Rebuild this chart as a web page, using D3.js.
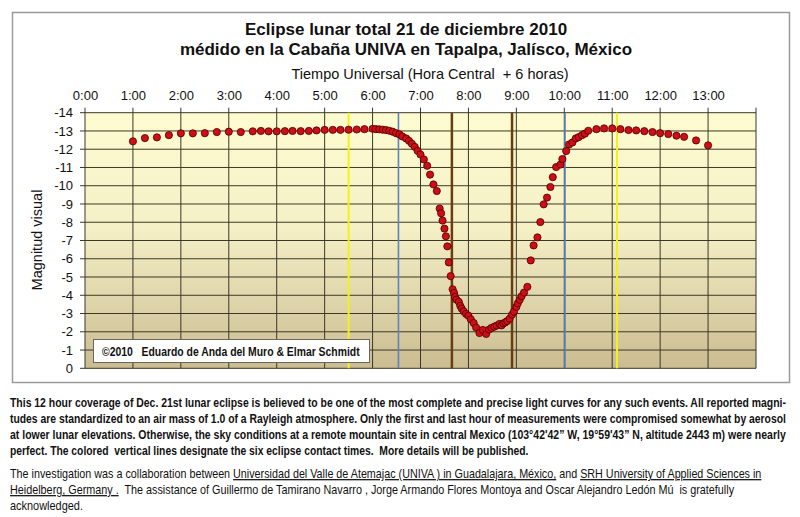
<!DOCTYPE html>
<html>
<head>
<meta charset="utf-8">
<script src="https://cdn.jsdelivr.net/npm/d3@7"></script>
<style>
  body { margin: 0; background: #fff; }
  svg { display: block; }
  text { white-space: pre; }
</style>
</head>
<body>
<script>
// measurement times (UT, decimal hours) and visual magnitudes
var times = [1.00, 1.25, 1.50, 1.75, 2.00, 2.25, 2.50, 2.75, 3.00, 3.25, 3.50, 3.67, 3.83,
  4.00, 4.17, 4.33, 4.50, 4.67, 4.83, 5.00, 5.17, 5.33, 5.50, 5.67, 5.83, 6.00, 6.07, 6.14,
  6.21, 6.28, 6.35, 6.42, 6.49, 6.56, 6.62, 6.70, 6.76, 6.82, 6.88, 6.94, 7.00, 7.07, 7.14,
  7.20, 7.27, 7.34, 7.40, 7.43, 7.46, 7.50, 7.53, 7.56, 7.59, 7.63, 7.67, 7.70, 7.72, 7.75,
  7.80, 7.83, 7.86, 7.90, 7.95, 8.00, 8.05, 8.11, 8.16, 8.23, 8.30, 8.37, 8.43, 8.48, 8.54,
  8.59, 8.65, 8.69, 8.73, 8.77, 8.81, 8.86, 8.91, 8.95, 9.00, 9.03, 9.07, 9.11, 9.16, 9.23,
  9.30, 9.36, 9.44, 9.50, 9.57, 9.64, 9.71, 9.76, 9.83, 9.92, 9.96, 10.04, 10.10, 10.17,
  10.24, 10.30, 10.37, 10.43, 10.50, 10.67, 10.83, 11.00, 11.17, 11.34, 11.50, 11.67, 11.84,
  12.00, 12.17, 12.34, 12.50, 12.75, 13.00];
var magnitudes = [-12.43, -12.61, -12.65, -12.77, -12.87, -12.87, -12.88, -12.94, -12.96, -12.94,
  -12.98, -13.00, -12.98, -12.98, -12.99, -13.00, -12.99, -13.00, -13.03, -13.06, -13.06, -13.06,
  -13.07, -13.08, -13.10, -13.12, -13.10, -13.09, -13.07, -13.05, -13.01, -12.96, -12.88, -12.81,
  -12.70, -12.59, -12.46, -12.30, -12.13, -11.91, -11.71, -11.44, -11.09, -10.61, -10.07, -9.71,
  -8.75, -8.49, -8.09, -7.65, -7.23, -6.68, -5.80, -5.05, -4.33, -4.13, -3.91, -3.76, -3.64,
  -3.42, -3.27, -3.12, -2.98, -2.88, -2.68, -2.48, -2.23, -1.93, -2.10, -1.88, -2.12, -2.21,
  -2.28, -2.34, -2.43, -2.35, -2.46, -2.52, -2.59, -2.72, -2.94, -3.10, -3.36, -3.56, -3.75,
  -3.95, -4.15, -4.46, -5.91, -6.73, -7.17, -8.01, -8.98, -9.35, -9.93, -10.47, -11.02, -11.16,
  -11.46, -11.90, -12.26, -12.37, -12.59, -12.66, -12.77, -12.85, -13.01, -13.10, -13.14, -13.14,
  -13.10, -13.05, -13.03, -12.99, -12.94, -12.88, -12.83, -12.74, -12.68, -12.48, -12.21];

// the six contacts P1 U1 U2 U3 U4 P4
var contactNames = ["P1", "U1", "U2", "U3", "U4", "P4"];
var contactTimes = [5.50, 6.54, 7.655, 8.91, 10.015, 11.10];

var hourTicks = [0, 1, 2, 3, 4, 5, 6, 7, 8, 9, 10, 11, 12, 13, 14];
var hourLabels = ["0:00", "1:00", "2:00", "3:00", "4:00", "5:00", "6:00", "7:00", "8:00",
  "9:00", "10:00", "11:00", "12:00", "13:00", ""];
var magTicks = [-14, -13, -12, -11, -10, -9, -8, -7, -6, -5, -4, -3, -2, -1, 0];

var titleLines = ["Eclipse lunar total 21 de diciembre 2010",
  "médido en la Cabaña UNIVA en Tapalpa, Jalísco, México"];

// caption text: each line is a list of [text, underlined]
var para1 = [
  [["This 12 hour coverage of Dec. 21st lunar eclipse is believed to be one of the most complete and precise light curves for any such events. All reported magni-", false]],
  [["tudes are standardized to an air mass of 1.0 of a Rayleigh atmosphere. Only the first and last hour of measurements were compromised somewhat by aerosol", false]],
  [["at lower lunar elevations. Otherwise, the sky conditions at a remote mountain site in central Mexico (103°42'42\u201D W, 19°59'43\u201D N, altitude 2443 m) were nearly", false]],
  [["perfect. The colored  vertical lines designate the six eclipse contact times.  More details will be published.", false]]
];
var para2 = [
  [["The investigation was a collaboration between ", false],
   ["Universidad del Valle de Atemajac (UNIVA ) in Guadalajara, México,", true],
   [" and ", false],
   ["SRH University of Applied Sciences in", true]],
  [["Heidelberg, Germany .", true],
   ["  The assistance of Guillermo de Tamirano Navarro , Jorge Armando Flores Montoya and Oscar Alejandro Ledón Mú  is gratefully", false]],
  [["acknowledged.", false]]
];

var width = 800, height = 517;
var margin = {left: 85, right: 44, top: 112.7, bottom: 148.7};

var svg = d3.select("body").append("svg")
    .attr("width", width)
    .attr("height", height)
    .style("font-family", "'Liberation Sans', Arial, sans-serif");

var x = d3.scaleLinear().domain([0, 14]).range([margin.left, width - margin.right]);
var y = d3.scaleLinear().domain([0, -14]).range([height - margin.bottom, margin.top]);

// chart frame
svg.append("rect")
    .attr("x", 12.5).attr("y", 12.5)
    .attr("width", 777).attr("height", 370)
    .attr("fill", "#fff")
    .attr("stroke", "#9a9a9a")
    .attr("stroke-width", 1.5);

var defs = svg.append("defs");
var grad = defs.append("linearGradient")
    .attr("id", "bg").attr("x1", 0).attr("y1", 0).attr("x2", 0).attr("y2", 1);
grad.append("stop").attr("offset", "0%").attr("stop-color", "#fdfcd0");
grad.append("stop").attr("offset", "45%").attr("stop-color", "#f5f0c6");
grad.append("stop").attr("offset", "100%").attr("stop-color", "#cbbc91");

svg.append("rect")
    .attr("x", x(0)).attr("y", y(-14))
    .attr("width", x(14) - x(0)).attr("height", y(0) - y(-14))
    .attr("fill", "url(#bg)");

// grid
svg.append("g").selectAll("line.h")
    .data(magTicks)
    .enter().append("line")
    .attr("x1", x(0) - 5).attr("x2", x(14))
    .attr("y1", function(d) { return y(d); })
    .attr("y2", function(d) { return y(d); })
    .attr("stroke", "#3b3828").attr("stroke-width", 1);

svg.append("g").selectAll("line.v")
    .data(hourTicks)
    .enter().append("line")
    .attr("x1", function(d) { return x(d); })
    .attr("x2", function(d) { return x(d); })
    .attr("y1", y(-14) - 5).attr("y2", y(0))
    .attr("stroke", "#3b3828").attr("stroke-width", 1);

// contact lines
function contactColor(name) {
    if (name.charAt(0) == "P") { return "#f6f01a"; }
    if (name == "U1" || name == "U4") { return "#5b83bd"; }
    return "#6a3c12";
}
svg.append("g").selectAll("line")
    .data(contactNames)
    .enter().append("line")
    .attr("x1", function(d, i) { return x(contactTimes[i]); })
    .attr("x2", function(d, i) { return x(contactTimes[i]); })
    .attr("y1", y(-14)).attr("y2", y(0))
    .attr("stroke", function(d) { return contactColor(d); })
    .attr("stroke-width", function(d) {
        return (d == "U2" || d == "U3") ? 2.5 : (d.charAt(0) == "P" ? 2 : 1.6);
    });

// top axis labels
var topAxis = d3.axisTop(x)
    .tickValues(hourTicks)
    .tickSize(0)
    .tickPadding(0)
    .tickFormat(function(d, i) { return hourLabels[i]; });
var gTop = svg.append("g")
    .attr("transform", "translate(0," + 100 + ")")
    .call(topAxis);
gTop.select(".domain").remove();
gTop.selectAll("text")
    .attr("font-size", 13)
    .attr("font-family", "'Liberation Sans', Arial, sans-serif")
    .attr("fill", "#111")
    .attr("dy", 0);

var leftAxis = d3.axisLeft(y)
    .tickValues(magTicks)
    .tickSize(0)
    .tickPadding(0)
    .tickFormat(function(d) { return String(d); });
var gLeft = svg.append("g")
    .attr("transform", "translate(" + 73 + ",0)")
    .call(leftAxis);
gLeft.select(".domain").remove();
gLeft.selectAll("text")
    .attr("font-size", 13)
    .attr("font-family", "'Liberation Sans', Arial, sans-serif")
    .attr("fill", "#111");

// titles
svg.selectAll("text.title")
    .data(titleLines)
    .enter().append("text")
    .attr("class", "title")
    .attr("x", 406)
    .attr("y", function(d, i) { return 35 + i * 19.5; })
    .attr("text-anchor", "middle")
    .attr("font-size", 17)
    .attr("font-weight", "bold")
    .attr("fill", "#111")
    .text(function(d) { return d; });

svg.append("text")
    .attr("x", 430).attr("y", 79)
    .attr("text-anchor", "middle")
    .attr("font-size", 14.5)
    .attr("fill", "#111")
    .text("Tiempo Universal (Hora Central  + 6 horas)");

svg.append("text")
    .attr("transform", "translate(42," + 240 + ") rotate(-90)")
    .attr("text-anchor", "middle")
    .attr("font-size", 14.5)
    .attr("fill", "#111")
    .text("Magnitud visual");

// squeeze a text horizontally so it spans the wanted width
function fitWidth(t, x0, y0, w) {
    var natural = t.node().getComputedTextLength();
    t.attr("x", 0).attr("y", 0)
     .attr("transform", "translate(" + x0 + "," + y0 + ") scale(" + (w / natural) + ",1)");
}

// copyright box
svg.append("rect")
    .attr("x", 93.5).attr("y", 339.5)
    .attr("width", 276).attr("height", 23)
    .attr("fill", "#fff")
    .attr("stroke", "#666").attr("stroke-width", 1);
var copy = svg.append("text")
    .attr("font-size", 13)
    .attr("font-weight", "bold")
    .attr("fill", "#111")
    .text("\u00A92010   Eduardo de Anda del Muro & Elmar Schmidt");
fitWidth(copy, 102, 355.5, 258);

// measurements
svg.append("g").selectAll("circle")
    .data(times)
    .enter().append("circle")
    .attr("cx", function(d) { return x(d); })
    .attr("cy", function(d, i) { return y(magnitudes[i]); })
    .attr("r", 3.6)
    .attr("fill", "#cf0d17")
    .attr("stroke", "#4a0000")
    .attr("stroke-width", 0.8);

// caption
function caption(lines, baselines, widths, bold) {
    lines.forEach(function(segs, i) {
        var t = svg.append("text")
            .attr("font-size", 12.5)
            .attr("font-weight", bold ? "bold" : "normal")
            .attr("fill", "#111");
        segs.forEach(function(s) {
            t.append("tspan")
                .style("text-decoration", s[1] ? "underline" : "none")
                .text(s[0]);
        });
        fitWidth(t, 10, baselines[i], widths[i]);
    });
}
caption(para1, [407, 423, 439, 455], [777, 777, 777, 519], true);
caption(para2, [478, 494, 510], [752, 725, 73], false);
</script>
</body>
</html>
